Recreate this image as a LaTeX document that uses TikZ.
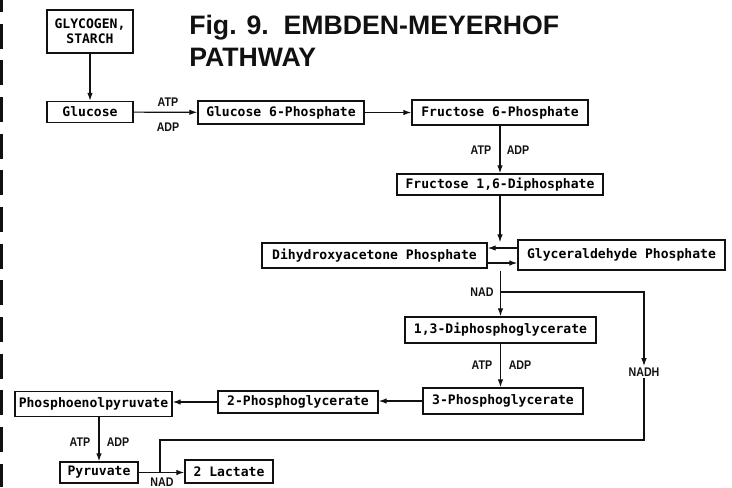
\documentclass[tikz,border=0pt]{standalone}
\usepackage{fontspec}
\usepackage{tikz}
\usetikzlibrary{arrows.meta,positioning,calc}
\newfontfamily\boxfont{DejaVu Sans Mono}
\newfontfamily\labfont[FakeStretch=0.85]{Liberation Sans}
\newfontfamily\titlefont{Liberation Sans}
\definecolor{ink}{HTML}{111111}
\tikzset{
  stepbox/.style={draw=ink,line width=1.1pt,inner sep=0pt,font=\boxfont\bfseries\fontsize{9.8}{11}\selectfont},
  boxsize/.style 2 args={minimum width=#1*0.75pt,minimum height=#2*0.75pt},
  reag/.style={inner sep=1pt,text=ink,font=\labfont\bfseries\fontsize{9.4}{10}\selectfont},
  flow/.style={draw=ink,line width=0.9pt,-{Latex[length=6pt,width=4.2pt]}},
  link/.style={draw=ink,line width=0.9pt}
}
\begin{document}
\begin{tikzpicture}[x=0.75pt,y=-0.75pt]
        \useasboundingbox (0,0) rectangle (732,487);
        \draw[ink,line width=2.25pt,dash pattern=on 18.75pt off 8.75pt,dash phase=9.75pt] (1.5,0) -- (1.5,487);
        \node[anchor=north west,inner sep=0pt,align=left,text=ink,font=\titlefont\bfseries\fontsize{20}{24}\selectfont] (title) at (189,15) {Fig. 9.\ \ EMBDEN-MEYERHOF\\PATHWAY};
        \node[stepbox,boxsize={86}{43},align=center] (glycogen) at (90,31.5) {GLYCOGEN,\\STARCH};
        \node[stepbox,boxsize={86}{21}] (glucose) at (90,112) {Glucose};
        \node[stepbox,boxsize={166}{23}] (gsixp) at (281,112.5) {Glucose 6-Phosphate};
        \node[stepbox,boxsize={176}{25}] (fsixp) at (500,112.5) {Fructose 6-Phosphate};
        \node[stepbox,boxsize={206}{21}] (fbisp) at (500,184.5) {Fructose 1,6-Diphosphate};
        \node[stepbox,boxsize={225}{25}] (dhap) at (374.5,255.5) {Dihydroxyacetone Phosphate};
        \node[stepbox,boxsize={207}{30}] (gap) at (621.5,255) {Glyceraldehyde Phosphate};
        \node[stepbox,boxsize={191}{26}] (dpg) at (500.5,330) {1,3-Diphosphoglycerate};
        \node[stepbox,boxsize={160}{26}] (threepg) at (503,401) {3-Phosphoglycerate};
        \node[stepbox,boxsize={160}{22}] (twopg) at (298,402) {2-Phosphoglycerate};
        \node[stepbox,boxsize={157}{25}] (pep) at (93.5,404) {Phosphoenolpyruvate};
        \node[stepbox,boxsize={78}{21}] (pyruvate) at (99,472.5) {Pyruvate};
        \node[stepbox,boxsize={88}{23}] (lactate) at (229,471.5) {2 Lactate};
        \node[reag] (atpa) at (168,102) {ATP};
        \node[reag] (adpa) at (168,127) {ADP};
        \node[reag] (atpb) at (481,150) {ATP};
        \node[reag] (adpb) at (518,150) {ADP};
        \node[reag] (nada) at (482,292) {NAD};
        \node[reag] (atpc) at (482,365) {ATP};
        \node[reag] (adpc) at (520,365) {ADP};
        \node[reag] (nadh) at (644,372) {NADH};
        \node[reag] (atpd) at (80,442) {ATP};
        \node[reag] (adpd) at (118,442) {ADP};
        \node[reag,inner sep=0pt] (nadb) at (162,482) {NAD};
        \coordinate (nadfork) at (500.5,292);
        \coordinate (turn) at (160,440);
        \coordinate (join) at (160,472.5);
        \draw[flow] (glycogen) -- (glucose);
        \draw[flow] (glucose) -- (gsixp);
        \draw[flow] (gsixp) -- (fsixp);
        \draw[flow] (fsixp) -- (fbisp);
        \draw[flow] (fbisp.south) -- (fbisp.south |- dhap.north);
        \draw[flow] (gap.west |- 0,248) -- (dhap.east |- 0,248);
        \draw[flow] (dhap.east |- 0,263) -- (gap.west |- 0,263);
        \draw[flow] (dpg.north |- gap.south) -- (dpg.north);
        \draw[flow] (nadfork) -| (nadh.north);
        \draw[link] (nadh.south) |- (turn) -- (join);
        \draw[flow] (dpg.south) -- (dpg.south |- threepg.north);
        \draw[flow] (threepg.west) -- (threepg.west -| twopg.east);
        \draw[flow] (twopg.west) -- (twopg.west -| pep.east);
        \draw[flow] (pyruvate.north |- pep.south) -- (pyruvate.north);
        \draw[flow] (pyruvate.east) -- (pyruvate.east -| lactate.west);
      \end{tikzpicture}
\end{document}
